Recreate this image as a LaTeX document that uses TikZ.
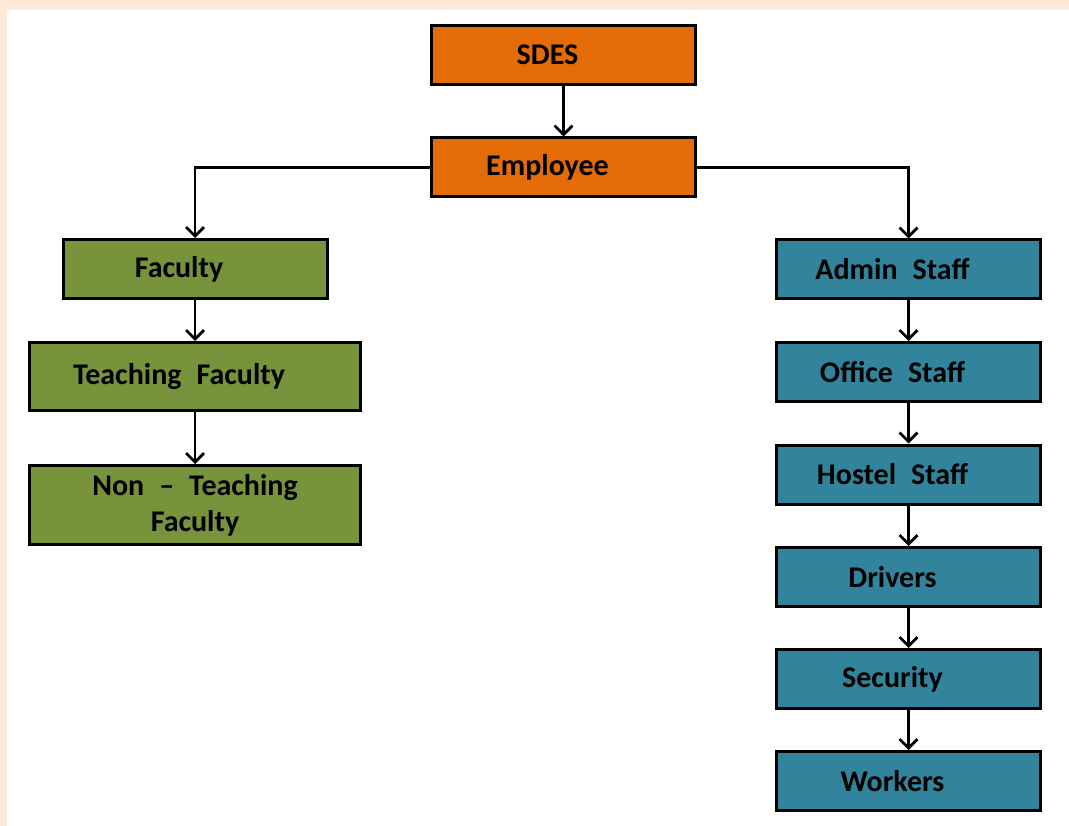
\documentclass[tikz,border=0pt]{standalone}
\usepackage{fontspec}
\setmainfont{Carlito}
\usetikzlibrary{arrows.meta}
\definecolor{sdesorange}{HTML}{E36C09}
\definecolor{facgreen}{HTML}{77933C}
\definecolor{staffteal}{HTML}{31849B}
\definecolor{pagepeach}{HTML}{FCE9DA}
\newcommand\boxfont{\fontsize{30}{36}\selectfont\bfseries\spaceskip=15pt plus 2pt\relax}
\begin{document}
\begin{tikzpicture}[x=1pt,y=-1pt,
	box/.style={draw=black,line width=3pt,minimum width=264pt,minimum height=59pt,inner sep=0pt,
		font=\boxfont},
	shiftleft/.style={execute at end node={\hspace*{32pt}}},
	orangebox/.style={box,shiftleft,fill=sdesorange},
	greenbox/.style={box,fill=facgreen},
	tealbox/.style={box,shiftleft,fill=staffteal},
	link/.style={line width=2.8pt,-{Straight Barb[length=9pt,width=18pt,line width=2.8pt]}}]
			\fill[pagepeach] (0,0) rectangle (1069,826);
			\fill[white] (7,10) rectangle (1069,826);
			\node[orangebox] (sdes) at (563.5,55) {SDES};
			\node[orangebox] (employee) at (563.5,167.5) {Employee};

			\node[greenbox,shiftleft] (faculty) at (195,269) {Faculty};
			\node[greenbox,shiftleft,minimum width=331pt,minimum height=68pt] (teaching) at (195,376.5) {Teaching Faculty};
			\node[greenbox,minimum width=331pt,minimum height=79pt,align=center] (nonteaching) at (195,505) {Non -- Teaching\\Faculty};

			\node[tealbox] (admin) at (908.5,269.5) {Admin Staff};
			\node[tealbox] (office) at (908.5,372) {Office Staff};
			\node[tealbox] (hostel) at (908.5,474.5) {Hostel Staff};
			\node[tealbox] (drivers) at (908.5,577) {Drivers};
			\node[tealbox] (security) at (908.5,679) {Security};
			\node[tealbox] (workers) at (908.5,781) {Workers};

			\draw[link] (sdes) -- (employee);
			\draw[link] (employee.west) -| (faculty);
			\draw[link] (employee.east) -| (admin);
			\draw[link] (faculty) -- (teaching);
			\draw[link] (teaching) -- (nonteaching);
			\draw[link] (admin) -- (office);
			\draw[link] (office) -- (hostel);
			\draw[link] (hostel) -- (drivers);
			\draw[link] (drivers) -- (security);
			\draw[link] (security) -- (workers);
\end{tikzpicture}
\end{document}
